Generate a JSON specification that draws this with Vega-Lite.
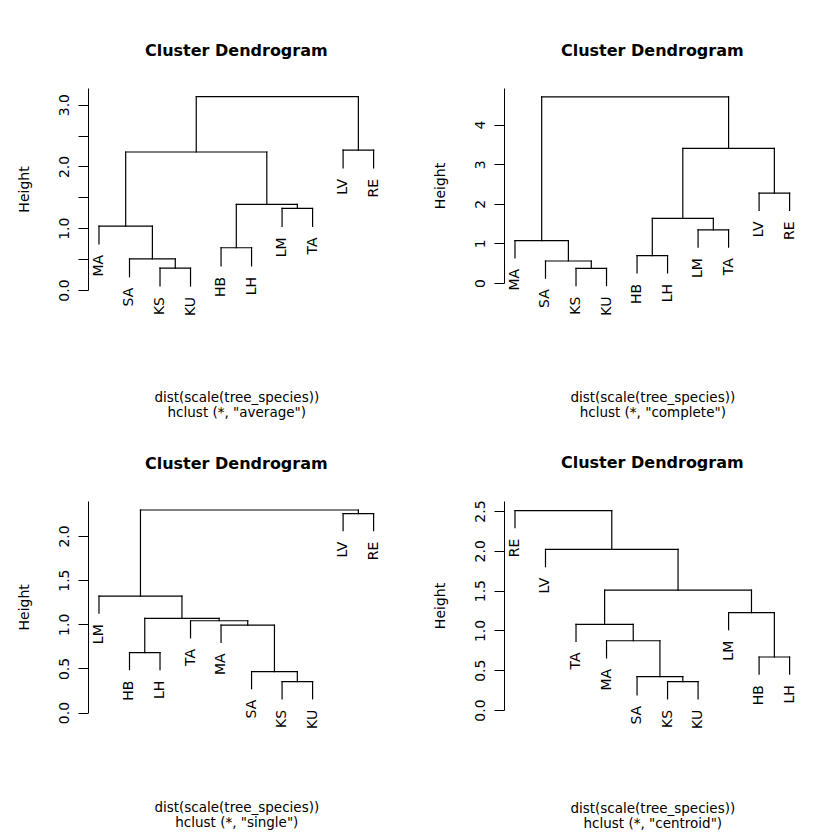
{
  "$schema": "https://vega.github.io/schema/vega-lite/v6.json",
  "background": "white",
  "padding": {"left": 17, "top": 43, "right": 0, "bottom": 0},
  "bounds": "flush",
  "columns": 2,
  "spacing": {"row": 211, "column": 119},
  "config": {
    "view": {"stroke": null},
    "font": "DejaVu Sans",
    "axis": {
      "grid": false,
      "labelColor": "black", "titleColor": "black",
      "domainColor": "black", "tickColor": "black",
      "domainWidth": 1, "tickWidth": 1,
      "labelFont": "DejaVu Sans", "titleFont": "DejaVu Sans",
      "labelFontSize": 14, "titleFontSize": 14, "titleFontWeight": "normal"
    },
    "title": {"font": "DejaVu Sans", "fontSize": 16, "fontWeight": "bold", "color": "black", "anchor": "middle", "frame": "group", "baseline": "alphabetic", "offset": 29}
  },
  "datasets": {
    "avg_seg": [
      {"x": 3, "x2": 4, "y": 0.355, "y2": 0.355}, {"x": 3, "x2": 3, "y": 0.065, "y2": 0.355}, {"x": 4, "x2": 4, "y": 0.065, "y2": 0.355},
      {"x": 2, "x2": 3.5, "y": 0.505, "y2": 0.505}, {"x": 2, "x2": 2, "y": 0.215, "y2": 0.505}, {"x": 3.5, "x2": 3.5, "y": 0.355, "y2": 0.505},
      {"x": 1, "x2": 2.75, "y": 1.035, "y2": 1.035}, {"x": 1, "x2": 1, "y": 0.745, "y2": 1.035}, {"x": 2.75, "x2": 2.75, "y": 0.505, "y2": 1.035},
      {"x": 5, "x2": 6, "y": 0.684, "y2": 0.684}, {"x": 5, "x2": 5, "y": 0.39, "y2": 0.684}, {"x": 6, "x2": 6, "y": 0.39, "y2": 0.684},
      {"x": 7, "x2": 8, "y": 1.32, "y2": 1.32}, {"x": 7, "x2": 7, "y": 1.03, "y2": 1.32}, {"x": 8, "x2": 8, "y": 1.03, "y2": 1.32},
      {"x": 5.5, "x2": 7.5, "y": 1.385, "y2": 1.385}, {"x": 5.5, "x2": 5.5, "y": 0.684, "y2": 1.385}, {"x": 7.5, "x2": 7.5, "y": 1.32, "y2": 1.385},
      {"x": 1.875, "x2": 6.5, "y": 2.233, "y2": 2.233}, {"x": 1.875, "x2": 1.875, "y": 1.035, "y2": 2.233}, {"x": 6.5, "x2": 6.5, "y": 1.385, "y2": 2.233},
      {"x": 9, "x2": 10, "y": 2.265, "y2": 2.265}, {"x": 9, "x2": 9, "y": 1.975, "y2": 2.265}, {"x": 10, "x2": 10, "y": 1.975, "y2": 2.265},
      {"x": 4.1875, "x2": 9.5, "y": 3.128, "y2": 3.128}, {"x": 4.1875, "x2": 4.1875, "y": 2.233, "y2": 3.128}, {"x": 9.5, "x2": 9.5, "y": 2.265, "y2": 3.128}
    ],
    "avg_leaf": [
      {"label": "MA", "x": 1, "y": 0.745}, {"label": "SA", "x": 2, "y": 0.215}, {"label": "KS", "x": 3, "y": 0.065}, {"label": "KU", "x": 4, "y": 0.065},
      {"label": "HB", "x": 5, "y": 0.39}, {"label": "LH", "x": 6, "y": 0.39}, {"label": "LM", "x": 7, "y": 1.03}, {"label": "TA", "x": 8, "y": 1.03},
      {"label": "LV", "x": 9, "y": 1.975}, {"label": "RE", "x": 10, "y": 1.975}
    ],
    "com_seg": [
      {"x": 3, "x2": 4, "y": 0.37, "y2": 0.37}, {"x": 3, "x2": 3, "y": -0.065, "y2": 0.37}, {"x": 4, "x2": 4, "y": -0.065, "y2": 0.37},
      {"x": 2, "x2": 3.5, "y": 0.555, "y2": 0.555}, {"x": 2, "x2": 2, "y": 0.12, "y2": 0.555}, {"x": 3.5, "x2": 3.5, "y": 0.37, "y2": 0.555},
      {"x": 1, "x2": 2.75, "y": 1.07, "y2": 1.07}, {"x": 1, "x2": 1, "y": 0.635, "y2": 1.07}, {"x": 2.75, "x2": 2.75, "y": 0.555, "y2": 1.07},
      {"x": 5, "x2": 6, "y": 0.69, "y2": 0.69}, {"x": 5, "x2": 5, "y": 0.255, "y2": 0.69}, {"x": 6, "x2": 6, "y": 0.255, "y2": 0.69},
      {"x": 7, "x2": 8, "y": 1.34, "y2": 1.34}, {"x": 7, "x2": 7, "y": 0.905, "y2": 1.34}, {"x": 8, "x2": 8, "y": 0.905, "y2": 1.34},
      {"x": 5.5, "x2": 7.5, "y": 1.63, "y2": 1.63}, {"x": 5.5, "x2": 5.5, "y": 0.69, "y2": 1.63}, {"x": 7.5, "x2": 7.5, "y": 1.34, "y2": 1.63},
      {"x": 9, "x2": 10, "y": 2.27, "y2": 2.27}, {"x": 9, "x2": 9, "y": 1.835, "y2": 2.27}, {"x": 10, "x2": 10, "y": 1.835, "y2": 2.27},
      {"x": 6.5, "x2": 9.5, "y": 3.4, "y2": 3.4}, {"x": 6.5, "x2": 6.5, "y": 1.63, "y2": 3.4}, {"x": 9.5, "x2": 9.5, "y": 2.27, "y2": 3.4},
      {"x": 1.875, "x2": 8, "y": 4.7, "y2": 4.7}, {"x": 1.875, "x2": 1.875, "y": 1.07, "y2": 4.7}, {"x": 8, "x2": 8, "y": 3.4, "y2": 4.7}
    ],
    "com_leaf": [
      {"label": "MA", "x": 1, "y": 0.635}, {"label": "SA", "x": 2, "y": 0.12}, {"label": "KS", "x": 3, "y": -0.065}, {"label": "KU", "x": 4, "y": -0.065},
      {"label": "HB", "x": 5, "y": 0.255}, {"label": "LH", "x": 6, "y": 0.255}, {"label": "LM", "x": 7, "y": 0.905}, {"label": "TA", "x": 8, "y": 0.905},
      {"label": "LV", "x": 9, "y": 1.835}, {"label": "RE", "x": 10, "y": 1.835}
    ],
    "sin_seg": [
      {"x": 7, "x2": 8, "y": 0.35, "y2": 0.35}, {"x": 7, "x2": 7, "y": 0.156, "y2": 0.35}, {"x": 8, "x2": 8, "y": 0.156, "y2": 0.35},
      {"x": 6, "x2": 7.5, "y": 0.464, "y2": 0.464}, {"x": 6, "x2": 6, "y": 0.27, "y2": 0.464}, {"x": 7.5, "x2": 7.5, "y": 0.35, "y2": 0.464},
      {"x": 5, "x2": 6.75, "y": 0.99, "y2": 0.99}, {"x": 5, "x2": 5, "y": 0.796, "y2": 0.99}, {"x": 6.75, "x2": 6.75, "y": 0.464, "y2": 0.99},
      {"x": 4, "x2": 5.875, "y": 1.04, "y2": 1.04}, {"x": 4, "x2": 4, "y": 0.846, "y2": 1.04}, {"x": 5.875, "x2": 5.875, "y": 0.99, "y2": 1.04},
      {"x": 2, "x2": 3, "y": 0.68, "y2": 0.68}, {"x": 2, "x2": 2, "y": 0.486, "y2": 0.68}, {"x": 3, "x2": 3, "y": 0.486, "y2": 0.68},
      {"x": 2.5, "x2": 4.9375, "y": 1.068, "y2": 1.068}, {"x": 2.5, "x2": 2.5, "y": 0.68, "y2": 1.068}, {"x": 4.9375, "x2": 4.9375, "y": 1.04, "y2": 1.068},
      {"x": 1, "x2": 3.71875, "y": 1.32, "y2": 1.32}, {"x": 1, "x2": 1, "y": 1.125, "y2": 1.32}, {"x": 3.71875, "x2": 3.71875, "y": 1.068, "y2": 1.32},
      {"x": 9, "x2": 10, "y": 2.254, "y2": 2.254}, {"x": 9, "x2": 9, "y": 2.06, "y2": 2.254}, {"x": 10, "x2": 10, "y": 2.06, "y2": 2.254},
      {"x": 2.359375, "x2": 9.5, "y": 2.294, "y2": 2.294}, {"x": 2.359375, "x2": 2.359375, "y": 1.32, "y2": 2.294}, {"x": 9.5, "x2": 9.5, "y": 2.254, "y2": 2.294}
    ],
    "sin_leaf": [
      {"label": "LM", "x": 1, "y": 1.125}, {"label": "HB", "x": 2, "y": 0.486}, {"label": "LH", "x": 3, "y": 0.486}, {"label": "TA", "x": 4, "y": 0.846},
      {"label": "MA", "x": 5, "y": 0.796}, {"label": "SA", "x": 6, "y": 0.27}, {"label": "KS", "x": 7, "y": 0.156}, {"label": "KU", "x": 8, "y": 0.156},
      {"label": "LV", "x": 9, "y": 2.06}, {"label": "RE", "x": 10, "y": 2.06}
    ],
    "cen_seg": [
      {"x": 6, "x2": 7, "y": 0.357, "y2": 0.357}, {"x": 6, "x2": 6, "y": 0.14, "y2": 0.357}, {"x": 7, "x2": 7, "y": 0.14, "y2": 0.357},
      {"x": 5, "x2": 6.5, "y": 0.42, "y2": 0.42}, {"x": 5, "x2": 5, "y": 0.19, "y2": 0.42}, {"x": 6.5, "x2": 6.5, "y": 0.357, "y2": 0.42},
      {"x": 4, "x2": 5.75, "y": 0.87, "y2": 0.87}, {"x": 4, "x2": 4, "y": 0.655, "y2": 0.87}, {"x": 5.75, "x2": 5.75, "y": 0.42, "y2": 0.87},
      {"x": 3, "x2": 4.875, "y": 1.077, "y2": 1.077}, {"x": 3, "x2": 3, "y": 0.862, "y2": 1.077}, {"x": 4.875, "x2": 4.875, "y": 0.87, "y2": 1.077},
      {"x": 9, "x2": 10, "y": 0.666, "y2": 0.666}, {"x": 9, "x2": 9, "y": 0.451, "y2": 0.666}, {"x": 10, "x2": 10, "y": 0.451, "y2": 0.666},
      {"x": 8, "x2": 9.5, "y": 1.223, "y2": 1.223}, {"x": 8, "x2": 8, "y": 1.008, "y2": 1.223}, {"x": 9.5, "x2": 9.5, "y": 0.666, "y2": 1.223},
      {"x": 3.9375, "x2": 8.75, "y": 1.507, "y2": 1.507}, {"x": 3.9375, "x2": 3.9375, "y": 1.077, "y2": 1.507}, {"x": 8.75, "x2": 8.75, "y": 1.223, "y2": 1.507},
      {"x": 2, "x2": 6.34375, "y": 2.018, "y2": 2.018}, {"x": 2, "x2": 2, "y": 1.8, "y2": 2.018}, {"x": 6.34375, "x2": 6.34375, "y": 1.507, "y2": 2.018},
      {"x": 1, "x2": 4.171875, "y": 2.505, "y2": 2.505}, {"x": 1, "x2": 1, "y": 2.29, "y2": 2.505}, {"x": 4.171875, "x2": 4.171875, "y": 2.018, "y2": 2.505}
    ],
    "cen_leaf": [
      {"label": "RE", "x": 1, "y": 2.29}, {"label": "LV", "x": 2, "y": 1.8}, {"label": "TA", "x": 3, "y": 0.862}, {"label": "MA", "x": 4, "y": 0.655},
      {"label": "SA", "x": 5, "y": 0.19}, {"label": "KS", "x": 6, "y": 0.14}, {"label": "KU", "x": 7, "y": 0.14}, {"label": "LM", "x": 8, "y": 1.008},
      {"label": "HB", "x": 9, "y": 0.451}, {"label": "LH", "x": 10, "y": 0.451}
    ]
  },
  "concat": [
    {
      "width": 296.6, "height": 202,
      "title": "Cluster Dendrogram",
      "encoding": {
        "x": {"field": "x", "type": "quantitative", "scale": {"domain": [0.64, 10.36], "nice": false, "zero": false},
              "axis": {"title": ["dist(scale(tree_species))", "hclust (*, \"average\")"], "domain": false, "ticks": false, "labels": false, "titlePadding": 100, "titleFontSize": 13.5, "titleLineHeight": 15}},
        "y": {"field": "y", "type": "quantitative", "scale": {"domain": [0, 3.269], "nice": false, "zero": false},
              "axis": {"title": "Height", "values": [0, 0.5, 1, 1.5, 2, 2.5, 3], "labelExpr": "datum.value % 1 === 0 ? format(datum.value, '.1f') : ''", "labelAngle": 270, "labelAlign": "center", "labelBaseline": "bottom", "labelPadding": 7, "tickSize": 10, "titlePadding": 25.7, "labelOverlap": false}}
      },
      "layer": [
        {"data": {"name": "avg_seg"}, "mark": {"type": "rule", "color": "black", "strokeWidth": 1.2, "strokeCap": "square"}, "encoding": {"x2": {"field": "x2"}, "y2": {"field": "y2"}}},
        {"data": {"name": "avg_leaf"}, "mark": {"type": "text", "angle": 270, "align": "right", "baseline": "middle", "dx": -11, "fontSize": 14, "font": "DejaVu Sans", "color": "black"}, "encoding": {"text": {"field": "label"}}}
      ]
    },
    {
      "width": 296.6, "height": 195,
      "title": "Cluster Dendrogram",
      "encoding": {
        "x": {"field": "x", "type": "quantitative", "scale": {"domain": [0.64, 10.36], "nice": false, "zero": false},
              "axis": {"title": ["dist(scale(tree_species))", "hclust (*, \"complete\")"], "domain": false, "ticks": false, "labels": false, "titlePadding": 107, "titleFontSize": 13.5, "titleLineHeight": 15}},
        "y": {"field": "y", "type": "quantitative", "scale": {"domain": [0, 4.924], "nice": false, "zero": false},
              "axis": {"title": "Height", "values": [0, 1, 2, 3, 4], "format": "d", "labelAngle": 270, "labelAlign": "center", "labelBaseline": "bottom", "labelPadding": 7, "tickSize": 10, "titlePadding": 25.7, "labelOverlap": false}}
      },
      "layer": [
        {"data": {"name": "com_seg"}, "mark": {"type": "rule", "color": "black", "strokeWidth": 1.2, "strokeCap": "square"}, "encoding": {"x2": {"field": "x2"}, "y2": {"field": "y2"}}},
        {"data": {"name": "com_leaf"}, "mark": {"type": "text", "angle": 270, "align": "right", "baseline": "middle", "dx": -11, "fontSize": 14, "font": "DejaVu Sans", "color": "black"}, "encoding": {"text": {"field": "label"}}}
      ]
    },
    {
      "width": 296.6, "height": 211.6,
      "title": "Cluster Dendrogram",
      "encoding": {
        "x": {"field": "x", "type": "quantitative", "scale": {"domain": [0.64, 10.36], "nice": false, "zero": false},
              "axis": {"title": ["dist(scale(tree_species))", "hclust (*, \"single\")"], "domain": false, "ticks": false, "labels": false, "titlePadding": 88, "titleFontSize": 13.5, "titleLineHeight": 15}},
        "y": {"field": "y", "type": "quantitative", "scale": {"domain": [0, 2.396], "nice": false, "zero": false},
              "axis": {"title": "Height", "values": [0, 0.5, 1, 1.5, 2], "format": ".1f", "labelAngle": 270, "labelAlign": "center", "labelBaseline": "bottom", "labelPadding": 7, "tickSize": 10, "titlePadding": 25.7, "labelOverlap": false}}
      },
      "layer": [
        {"data": {"name": "sin_seg"}, "mark": {"type": "rule", "color": "black", "strokeWidth": 1.2, "strokeCap": "square"}, "encoding": {"x2": {"field": "x2"}, "y2": {"field": "y2"}}},
        {"data": {"name": "sin_leaf"}, "mark": {"type": "text", "angle": 270, "align": "right", "baseline": "middle", "dx": -11, "fontSize": 14, "font": "DejaVu Sans", "color": "black"}, "encoding": {"text": {"field": "label"}}}
      ]
    },
    {
      "width": 296.6, "height": 209,
      "title": "Cluster Dendrogram",
      "encoding": {
        "x": {"field": "x", "type": "quantitative", "scale": {"domain": [0.64, 10.36], "nice": false, "zero": false},
              "axis": {"title": ["dist(scale(tree_species))", "hclust (*, \"centroid\")"], "domain": false, "ticks": false, "labels": false, "titlePadding": 91, "titleFontSize": 13.5, "titleLineHeight": 15}},
        "y": {"field": "y", "type": "quantitative", "scale": {"domain": [0, 2.626], "nice": false, "zero": false},
              "axis": {"title": "Height", "values": [0, 0.5, 1, 1.5, 2, 2.5], "format": ".1f", "labelAngle": 270, "labelAlign": "center", "labelBaseline": "bottom", "labelPadding": 7, "tickSize": 10, "titlePadding": 25.7, "labelOverlap": false}}
      },
      "layer": [
        {"data": {"name": "cen_seg"}, "mark": {"type": "rule", "color": "black", "strokeWidth": 1.2, "strokeCap": "square"}, "encoding": {"x2": {"field": "x2"}, "y2": {"field": "y2"}}},
        {"data": {"name": "cen_leaf"}, "mark": {"type": "text", "angle": 270, "align": "right", "baseline": "middle", "dx": -11, "fontSize": 14, "font": "DejaVu Sans", "color": "black"}, "encoding": {"text": {"field": "label"}}}
      ]
    }
  ]
}
